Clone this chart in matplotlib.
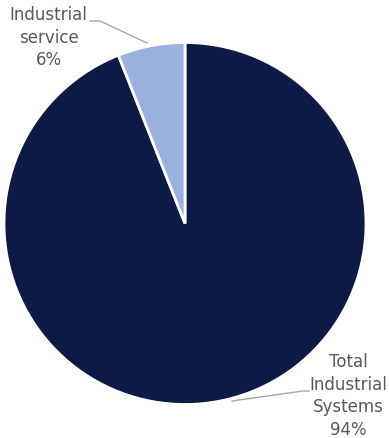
import matplotlib
matplotlib.use('Agg')
import matplotlib.pyplot as plt

labels = ["Total\nIndustrial\nSystems", "Industrial\nservice"]
shares = [94, 6]
colors = ["#0C1A45", "#9AB0DE"]

W, H = 389, 439
fig = plt.figure(figsize=(W / 100, H / 100), dpi=100)
ax = fig.add_axes([0, 0, 1, 1])

ax.pie(shares, colors=colors, startangle=90, counterclock=False,
       center=(185, H - 224.5), radius=181, frame=True,
       wedgeprops=dict(edgecolor='white', linewidth=2))
ax.set_xlim(0, W)
ax.set_ylim(0, H)
ax.set_aspect('equal')
ax.axis('off')

txt = dict(ha='center', va='center', color='#595959', fontsize=12,
           family='DejaVu Sans', linespacing=1.33)
ax.text(48.5, H - 37.5, f"{labels[1]}\n{shares[1]}%", **txt)
ax.text(348, H - 396, f"{labels[0]}\n{shares[0]}%", **txt)

# leader lines
ax.plot([90, 100, 147], [H - 22, H - 22, H - 44], color='#A6A6A6', lw=1)
ax.plot([232, 303, 309], [H - 402, H - 392, H - 392], color='#A6A6A6', lw=1)

fig.savefig("out.png", dpi=100)
